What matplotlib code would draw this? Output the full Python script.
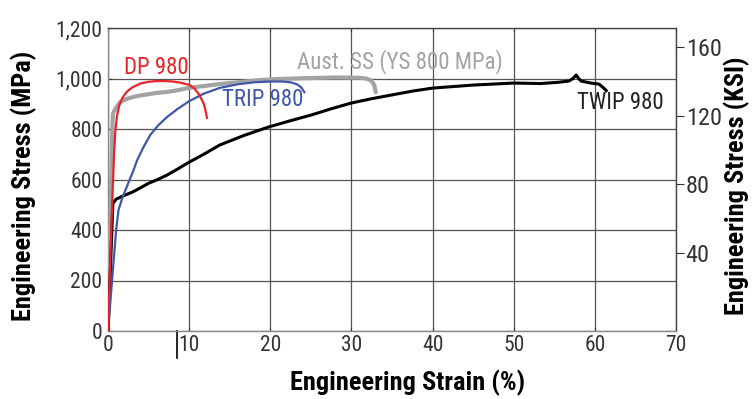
import matplotlib
matplotlib.use("Agg")
import matplotlib.pyplot as plt
import matplotlib.transforms as mtransforms

# ---------------- data ----------------
dp_strain = [0, 0.2, 0.4, 0.6, 0.75, 0.9, 1.1, 1.4, 1.8, 2.3, 3.0, 4.0, 5.0, 6.0, 7.0, 8.0, 9.0,
             10.0, 10.6, 11.1, 11.5, 11.8, 12.0, 12.2]
dp_stress = [0, 200, 400, 580, 700, 790, 850, 895, 925, 947, 965, 980, 987, 990, 990, 988, 983,
             975, 962, 942, 920, 900, 875, 844]

ss_strain = [0, 0.3, 0.5, 0.6, 0.9, 1.5, 2.2, 3.1, 4.0, 5.0, 6.0, 7.3, 8.5, 9.8, 11.8, 13.8, 16.0,
             18.8, 21.0, 24.0, 28.0, 31.0, 31.8, 32.4, 32.8, 33.0]
ss_stress = [0, 400, 760, 860, 880, 907, 918, 927, 933, 938, 943, 947, 953, 962, 970, 978, 985,
             994, 998, 1001, 1004, 1003, 1000, 993, 975, 946]

trip_strain = [0, 0.5, 1.0, 1.3, 1.8, 2.3, 3.0, 3.6, 4.4, 5.2, 6.2, 7.3, 8.6, 10.0, 11.8, 13.8,
               16.0, 18.0, 20.0, 21.5, 22.5, 23.3, 23.8, 24.2]
trip_stress = [0, 200, 400, 480, 530, 570, 625, 677, 730, 776, 815, 848, 880, 910, 940, 963,
               977, 985, 988, 988, 985, 977, 965, 946]

twip_strain = [0, 0.3, 0.6, 1.0, 2.0, 3.0, 4.0, 5.0, 6.2, 7.3, 8.5, 9.8, 11.8, 13.8, 16.8, 19.8,
               22.5, 25.0, 27.5, 30.0, 32.5, 35.0, 37.5, 40.0, 45.0, 50.0, 53.3, 55.5, 56.8,
               57.3, 57.7, 58.0, 58.3, 59.5, 60.5, 61.1, 61.4]
twip_stress = [0, 250, 505, 522, 537, 550, 567, 585, 601, 618, 640, 665, 700, 737, 775, 808,
               833, 855, 880, 903, 920, 935, 950, 962, 974, 982, 980, 985, 990,
               1000, 1014, 1000, 990, 982, 978, 962, 952]

x_ticks = [0, 10, 20, 30, 40, 50, 60, 70]
y_ticks = [0, 200, 400, 600, 800, 1000, 1200]
y_ticklabels = ["0", "200", "400", "600", "800", "1,000", "1,200"]
ksi_ticks = [40, 80, 120, 160]

# ---------------- style ----------------
plt.rcParams["font.family"] = ["Roboto Condensed", "DejaVu Sans"]

RED = "#e8232a"
BLUE = "#3f57a8"
GRAY = "#a3a3a3"
TXT = "#333333"

fig = plt.figure(figsize=(7.54, 3.99), dpi=100)
ax = fig.add_axes([108/754, 1-331/399, (676-108)/754, (331-28)/399])

ax.plot(ss_strain, ss_stress, color=GRAY, lw=3.0, solid_capstyle="round", zorder=3)
ax.plot(twip_strain, twip_stress, color="black", lw=2.2, zorder=4)
ax.plot(trip_strain, trip_stress, color=BLUE, lw=1.6, zorder=5)
ax.plot(dp_strain, dp_stress, color=RED, lw=1.6, zorder=6)

ax.set_xlim(0, 70)
ax.set_ylim(0, 1200)
ax.set_xticks(x_ticks)
ax.set_yticks(y_ticks)
ax.set_yticklabels(y_ticklabels)
ax.grid(True, color="#555555", lw=0.9, zorder=0)
ax.set_axisbelow(True)

ax.tick_params(axis="x", direction="in", length=3, top=True, color="#333333",
               labelsize=15.5, labelcolor=TXT, pad=3)
ax.tick_params(axis="y", direction="in", length=3, right=True, color="#333333",
               labelsize=15.5, labelcolor=TXT, pad=4)

for s in ["left", "bottom"]:
    ax.spines[s].set_color("#888888")
    ax.spines[s].set_linewidth(1.0)
for s in ["top", "right"]:
    ax.spines[s].set_color("#444444")
    ax.spines[s].set_linewidth(1.0)

# axis titles
fig.text(408/754, 1-383/399, "Engineering Strain (%)", fontsize=19, fontweight="bold",
         ha="center", va="center", color="black")
fig.text(24/754, 1-186/399, "Engineering Stress (MPa)", fontsize=19, fontweight="bold",
         ha="center", va="center", rotation=90, color="black")
fig.text(737/754, 1-186/399, "Engineering Stress (KSI)", fontsize=19, fontweight="bold",
         ha="center", va="center", rotation=90, color="black")

# curve labels
ax.text(5.9, 1045, "DP 980", color=RED, fontsize=16.5, ha="center", va="center")
ax.text(36.0, 1069, "Aust. SS (YS 800 MPa)", color=GRAY, fontsize=16.5, ha="center", va="center")
ax.text(19.1, 915, "TRIP 980", color=BLUE, fontsize=16.5, ha="center", va="center")
ax.text(63.1, 903, "TWIP 980", color="#222222", fontsize=16.5, ha="center", va="center")

# right KSI axis
ax2 = ax.twinx()
ax2.set_ylim(-5.4, 171)
ax2.set_yticks(ksi_ticks)
ax2.tick_params(axis="y", direction="out", length=6, color="#333333",
                labelsize=17.5, labelcolor=TXT, pad=1)
for s in ax2.spines.values():
    s.set_visible(False)

# stray vertical mark beneath the axis near the 10 label
trans = mtransforms.blended_transform_factory(ax.transData, ax.transAxes)
ax.plot([8.5, 8.5], [0, -0.088], color="black", lw=1.2, transform=trans, clip_on=False)

fig.savefig("out.png", dpi=100)
